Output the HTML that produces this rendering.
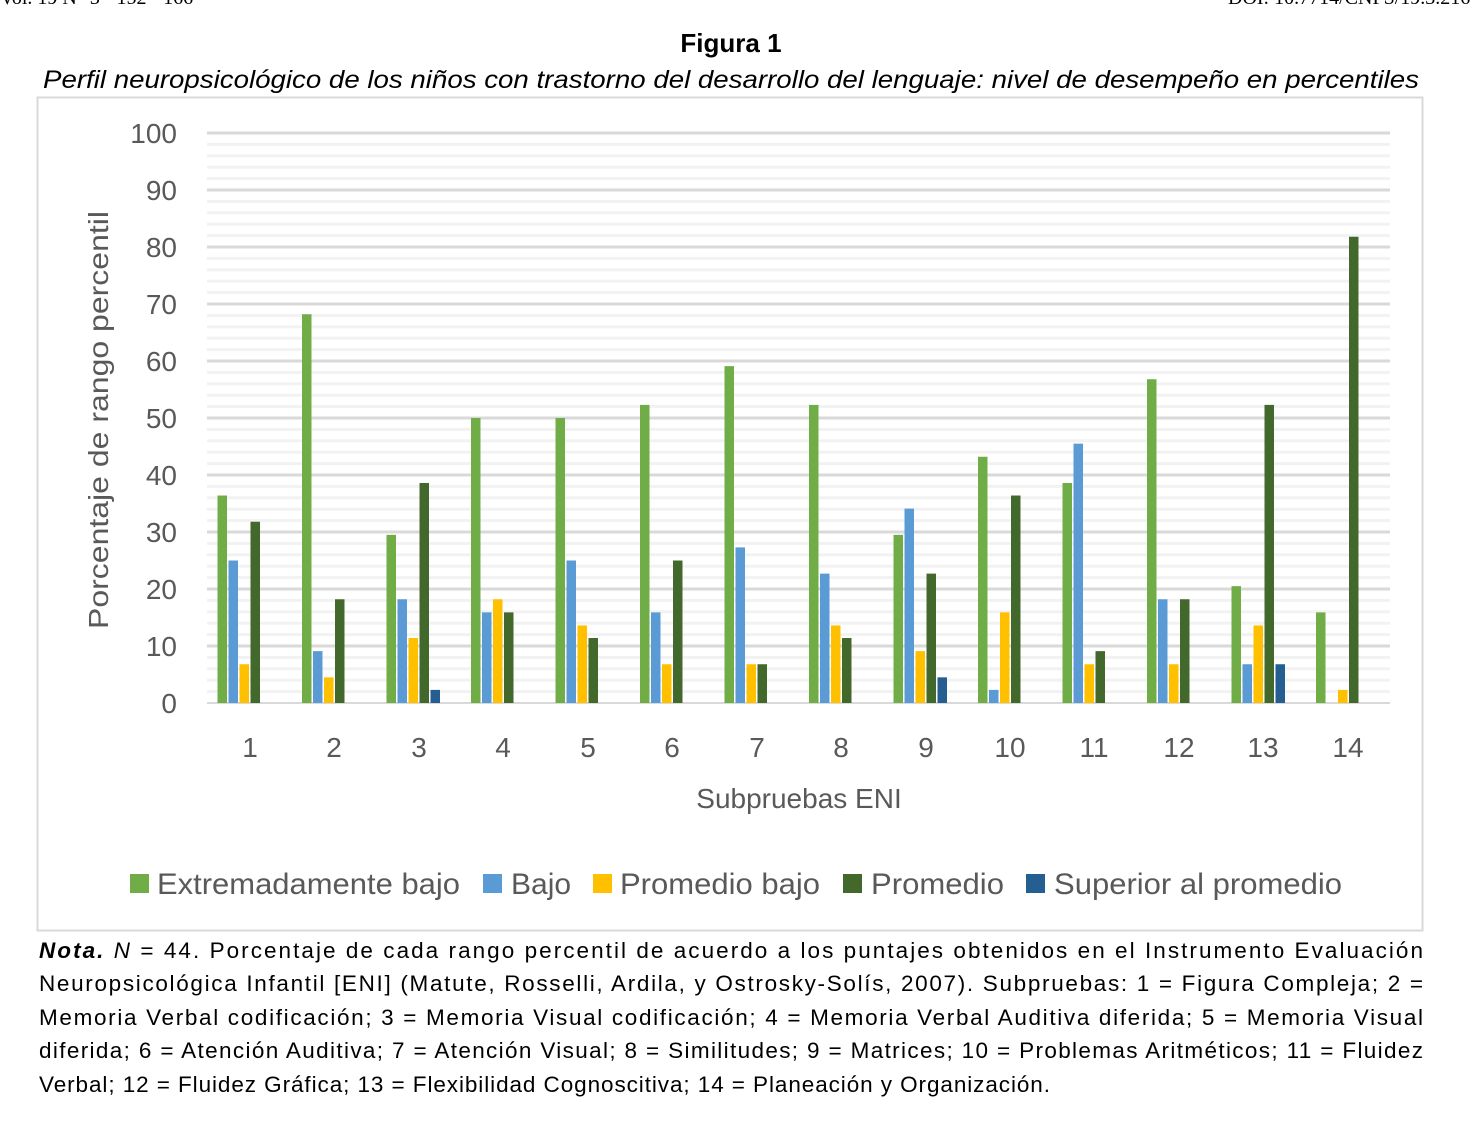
<!DOCTYPE html>
<html><head><meta charset="utf-8"><style>
html,body{margin:0;padding:0;background:#fff;}
svg{display:block;}
</style></head><body>
<svg id="s" width="1482" height="1144" xmlns="http://www.w3.org/2000/svg" font-family="Liberation Sans, sans-serif">
<text x="0" y="4" font-family="Liberation Serif, serif" font-size="20">Vol. 19 N° 3 · 152 - 166</text>
<text x="1228" y="4" font-family="Liberation Serif, serif" font-size="20">DOI: 10.7714/CNPS/19.3.216</text>
<text x="731" y="52" text-anchor="middle" font-size="26" font-weight="bold">Figura 1</text>
<text x="43" y="88" font-size="25" font-style="italic" textLength="1376" lengthAdjust="spacingAndGlyphs">Perfil neuropsicológico de los niños con trastorno del desarrollo del lenguaje: nivel de desempeño en percentiles</text>
<rect x="37.5" y="97.5" width="1385" height="833" fill="none" stroke="#d9d9d9" stroke-width="2"/>
<g id="grid"></g>
<g id="bars"></g>
<g font-size="28" fill="#595959" text-anchor="end">
<text x="177" y="143">100</text><text x="177" y="200">90</text><text x="177" y="257">80</text><text x="177" y="314">70</text><text x="177" y="371">60</text><text x="177" y="428">50</text><text x="177" y="485">40</text><text x="177" y="542">30</text><text x="177" y="599">20</text><text x="177" y="656">10</text><text x="177" y="713">0</text>
</g>
<g font-size="28" fill="#595959" text-anchor="middle">
<text x="250" y="757">1</text><text x="334" y="757">2</text><text x="419" y="757">3</text><text x="503" y="757">4</text><text x="588" y="757">5</text><text x="672" y="757">6</text><text x="757" y="757">7</text><text x="841" y="757">8</text><text x="926" y="757">9</text><text x="1010" y="757">10</text><text x="1094" y="757">11</text><text x="1179" y="757">12</text><text x="1263" y="757">13</text><text x="1348" y="757">14</text>
<text x="799" y="808">Subpruebas ENI</text>
<text transform="translate(108,420) rotate(-90)" textLength="418" lengthAdjust="spacingAndGlyphs">Porcentaje  de  rango percentil</text>
</g>
<g font-size="30" fill="#595959">
<rect x="130" y="874" width="19" height="19" fill="#70AD47"/><text x="157" y="894" textLength="303" lengthAdjust="spacingAndGlyphs">Extremadamente bajo</text>
<rect x="483" y="874" width="19" height="19" fill="#5B9BD5"/><text x="511" y="894">Bajo</text>
<rect x="593" y="874" width="19" height="19" fill="#FFC000"/><text x="620" y="894" textLength="200" lengthAdjust="spacingAndGlyphs">Promedio bajo</text>
<rect x="843" y="874" width="19" height="19" fill="#43682B"/><text x="871" y="894" textLength="133" lengthAdjust="spacingAndGlyphs">Promedio</text>
<rect x="1026" y="874" width="19" height="19" fill="#255E91"/><text x="1054" y="894" textLength="288" lengthAdjust="spacingAndGlyphs">Superior al promedio</text>
</g>
<g font-size="22.5" fill="#000">
<text x="39" y="958" textLength="1384" lengthAdjust="spacing"><tspan font-weight="bold" font-style="italic" letter-spacing="0">Nota.</tspan> <tspan font-style="italic">N</tspan> = 44.  Porcentaje de cada rango percentil de acuerdo a los puntajes obtenidos en el Instrumento Evaluación</text>
<text x="39" y="991" textLength="1384" lengthAdjust="spacing">Neuropsicológica Infantil [ENI] (Matute, Rosselli, Ardila, y Ostrosky-Solís, 2007).  Subpruebas: 1 = Figura Compleja; 2 =</text>
<text x="39" y="1025" textLength="1384" lengthAdjust="spacing">Memoria Verbal codificación; 3 = Memoria Visual codificación; 4 = Memoria Verbal Auditiva diferida; 5 = Memoria Visual</text>
<text x="39" y="1058" textLength="1384" lengthAdjust="spacing">diferida; 6 = Atención Auditiva; 7 = Atención Visual; 8 = Similitudes; 9 = Matrices; 10 = Problemas Aritméticos; 11 = Fluidez</text>
<text x="39" y="1092" textLength="1011" lengthAdjust="spacing">Verbal; 12 = Fluidez Gráfica; 13 = Flexibilidad Cognoscitiva; 14 = Planeación y Organización.</text>
</g>
</svg>
<script>
var ns="http://www.w3.org/2000/svg";
function r(p,x,y,w,h,f){var e=document.createElementNS(ns,"rect");e.setAttribute("x",x);e.setAttribute("y",y);e.setAttribute("width",w);e.setAttribute("height",h);e.setAttribute("fill",f);document.getElementById(p).appendChild(e);}
for(var v=2;v<=100;v+=2){var y=703-v*5.7;r("grid",207,y-1.5,1183,3,v%10==0?"#d9d9d9":"#f2f2f2");}
r("grid",207,702,1183,2,"#d9d9d9");
var d=[[36.4,25,6.8,31.8,0],[68.2,9.1,4.5,18.2,0],[29.5,18.2,11.4,38.6,2.3],[50,15.9,18.2,15.9,0],[50,25,13.6,11.4,0],[52.3,15.9,6.8,25,0],[59.1,27.3,6.8,6.8,0],[52.3,22.7,13.6,11.4,0],[29.5,34.1,9.1,22.7,4.5],[43.2,2.3,15.9,36.4,0],[38.6,45.5,6.8,9.1,0],[56.8,18.2,6.8,18.2,0],[20.5,6.8,13.6,52.3,6.8],[15.9,0,2.3,81.8,0]];
var c=["#70AD47","#5B9BD5","#FFC000","#43682B","#255E91"];
for(var i=0;i<14;i++){var g=207+i*84.5;for(var k=0;k<5;k++){var v=d[i][k];if(v>0){var h=v*5.7;r("bars",g+10.5+k*11,703-h,9.5,h,c[k]);}}}
</script>
</body></html>
